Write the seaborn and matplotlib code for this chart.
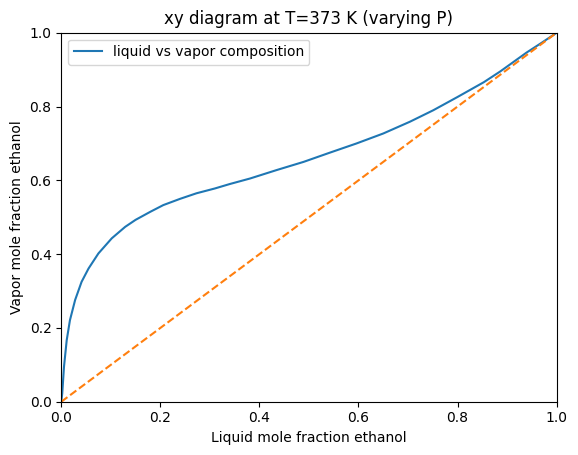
import matplotlib
matplotlib.use("Agg")
import matplotlib.pyplot as plt
import seaborn as sns
import pandas as pd

# liquid mole fraction (x) vs vapor mole fraction (y)
x_liquid = [0, 0.002, 0.0055, 0.011, 0.0175, 0.028, 0.041, 0.055, 0.075, 0.102,
            0.129, 0.15, 0.18, 0.206, 0.24, 0.273, 0.31, 0.34, 0.381, 0.435,
            0.489, 0.542, 0.596, 0.650, 0.704, 0.751, 0.80, 0.853, 0.886,
            0.912, 0.939, 0.97, 1.0]
y_vapor = [0, 0.023, 0.095, 0.167, 0.221, 0.276, 0.325, 0.361, 0.402, 0.443,
           0.474, 0.493, 0.515, 0.533, 0.55, 0.565, 0.578, 0.590, 0.605, 0.628,
           0.650, 0.675, 0.700, 0.727, 0.759, 0.790, 0.826, 0.866, 0.895,
           0.920, 0.946, 0.973, 1.0]

# diagonal y = x
diag = [0, 1]

df = pd.DataFrame({'x': x_liquid, 'y': y_vapor})

fig, ax = plt.subplots(figsize=(5.78, 4.55), dpi=100)
fig.subplots_adjust(left=0.106, right=0.963, top=0.928, bottom=0.117)

sns.lineplot(data=df, x='x', y='y', ax=ax, color='#1f77b4', linewidth=1.5,
             label='liquid vs vapor composition', sort=False)
sns.lineplot(x=diag, y=diag, ax=ax, color='#ff7f0e', linestyle='--', linewidth=1.5)

ax.set_xlim(0, 1)
ax.set_ylim(0, 1)
ax.set_xlabel('Liquid mole fraction ethanol')
ax.set_ylabel('Vapor mole fraction ethanol')
ax.set_title('xy diagram at T=373 K (varying P)')
ax.legend(loc='upper left')

plt.savefig('out.png', dpi=100)
plt.close()
